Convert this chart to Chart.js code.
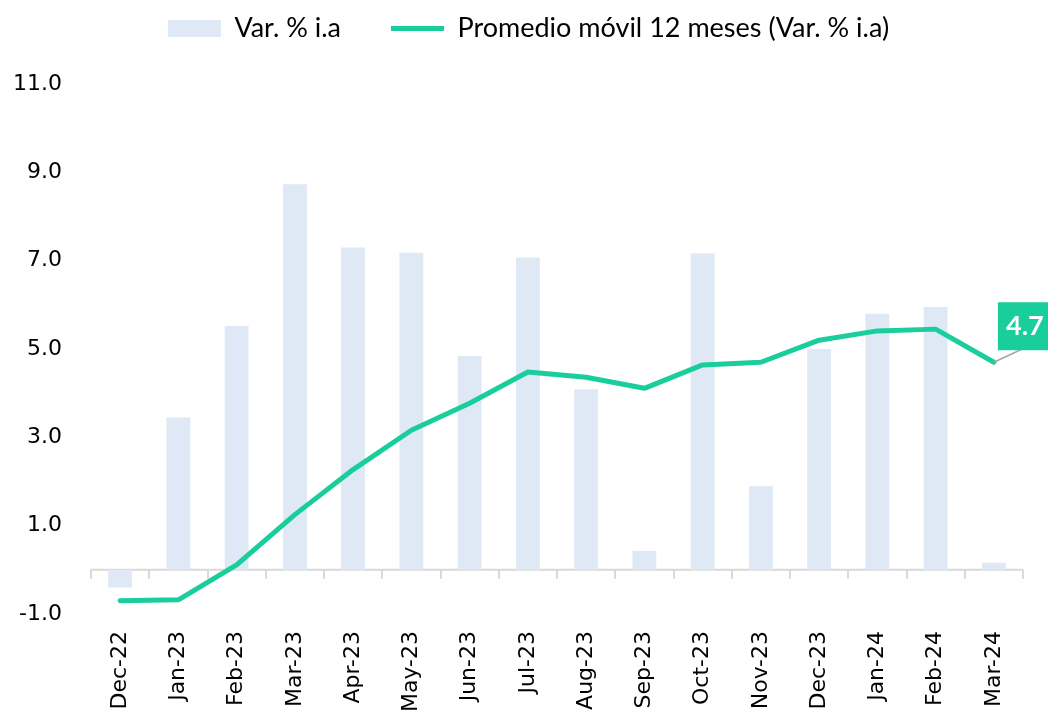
<!DOCTYPE html>
<html>
<head>
<meta charset="utf-8">
<script src="https://cdn.jsdelivr.net/npm/chart.js@4.4.1/dist/chart.umd.min.js"></script>
<style>
  html, body { margin: 0; padding: 0; background: #fff; overflow: hidden; }
</style>
</head>
<body>
<canvas id="chart" width="1048" height="721"></canvas>
<script>
// values
const months = ['Dec-22', 'Jan-23', 'Feb-23', 'Mar-23', 'Apr-23', 'May-23', 'Jun-23', 'Jul-23',
                'Aug-23', 'Sep-23', 'Oct-23', 'Nov-23', 'Dec-23', 'Jan-24', 'Feb-24', 'Mar-24'];
const varIa = [-0.4, 3.45, 5.52, 8.73, 7.3, 7.18, 4.84, 7.07, 4.09, 0.43, 7.16, 1.89, 5.0, 5.8, 5.95, 0.16];
const promedio12 = [-0.7, -0.68, 0.11, 1.25, 2.27, 3.16, 3.77, 4.48, 4.36, 4.11, 4.64, 4.7, 5.2, 5.41, 5.45, 4.7];
const yMin = -1, yMax = 11, yStep = 2;

const barColor = 'rgb(222, 233, 245)';
const lineColor = '#19CE9C';
const axisColor = '#D9D9D9';

// zero line + tick marks between categories
const zeroAxis = {
  id: 'zeroAxis',
  beforeDatasetsDraw(chart) {
    const {ctx, scales: {x, y}} = chart;
    const y0 = y.getPixelForValue(0);
    const half = (x.getPixelForTick(1) - x.getPixelForTick(0)) / 2;
    ctx.save();
    ctx.strokeStyle = axisColor;
    ctx.lineWidth = 2;
    ctx.beginPath();
    ctx.moveTo(x.left, y0);
    ctx.lineTo(x.right, y0);
    for (let i = 0; i <= months.length; i++) {
      const px = Math.round(x.getPixelForTick(0) - half + i * half * 2);
      ctx.moveTo(px, y0);
      ctx.lineTo(px, y0 + 9);
    }
    ctx.stroke();
    ctx.restore();
  }
};

// callout for the last value of the moving average
const lastLabel = {
  id: 'lastLabel',
  afterDatasetsDraw(chart) {
    const {ctx} = chart;
    const meta = chart.getDatasetMeta(1);
    const pt = meta.data[meta.data.length - 1];
    const val = promedio12[promedio12.length - 1];
    ctx.save();
    ctx.strokeStyle = '#A6A6A6';
    ctx.lineWidth = 1.5;
    ctx.beginPath();
    ctx.moveTo(pt.x, pt.y);
    ctx.lineTo(pt.x + 30, pt.y - 14);
    ctx.stroke();
    ctx.fillStyle = lineColor;
    ctx.fillRect(pt.x + 4, pt.y - 60, 52, 48);
    ctx.fillStyle = '#fff';
    ctx.font = 'bold 27px Lato';
    ctx.textAlign = 'center';
    ctx.textBaseline = 'middle';
    ctx.fillText(val.toFixed(1), pt.x + 31, pt.y - 36);
    ctx.restore();
  }
};

// room under the legend, and nudge it a bit to the right
const legendSpace = {
  id: 'legendSpace',
  beforeInit(chart) {
    const fit = chart.legend.fit;
    chart.legend.fit = function () {
      fit.bind(chart.legend)();
      this.height = 119;
    };
  },
  afterLayout(chart) {
    chart.legend.left += 12;
    chart.legend.right += 12;
  }
};

new Chart(document.getElementById('chart'), {
  type: 'bar',
  data: {
    labels: months,
    datasets: [
      {
        type: 'bar',
        label: 'Var. % i.a',
        data: varIa,
        backgroundColor: barColor,
        borderWidth: 0,
        categoryPercentage: 1,
        barPercentage: 0.41,
        pointStyle: 'rect',
        order: 2
      },
      {
        type: 'line',
        label: 'Promedio móvil 12 meses (Var. % i.a)',
        data: promedio12,
        borderColor: lineColor,
        backgroundColor: lineColor,
        borderWidth: 5,
        borderCapStyle: 'round',
        borderJoinStyle: 'round',
        tension: 0,
        pointRadius: 0,
        pointStyle: 'line',
        order: 1
      }
    ]
  },
  options: {
    responsive: false,
    animation: false,
    layout: { padding: { top: -35, left: 10, right: 25, bottom: 0 } },
    plugins: {
      tooltip: { enabled: false },
      legend: {
        display: true,
        position: 'top',
        labels: {
          usePointStyle: true,
          pointStyleWidth: 53,
          boxHeight: 17,
          padding: 50,
          color: '#000',
          font: { family: 'Lato', size: 27 },
          sort: (a, b) => a.datasetIndex - b.datasetIndex
        }
      }
    },
    scales: {
      x: {
        grid: { display: false, drawTicks: false },
        border: { display: false },
        ticks: {
          autoSkip: false,
          minRotation: 90,
          maxRotation: 90,
          padding: 17,
          color: '#000',
          font: { family: 'DejaVu Sans', size: 22 }
        },
        afterFit(scale) { scale.height = 107; }
      },
      y: {
        min: yMin,
        max: yMax,
        grid: { display: false, drawTicks: false },
        border: { display: false },
        ticks: {
          stepSize: yStep,
          padding: 29,
          color: '#000',
          font: { family: 'DejaVu Sans', size: 22 },
          callback: (v) => v.toFixed(1)
        },
        afterFit(scale) { scale.width = 81; }
      }
    }
  },
  plugins: [zeroAxis, lastLabel, legendSpace]
});
</script>
</body>
</html>
